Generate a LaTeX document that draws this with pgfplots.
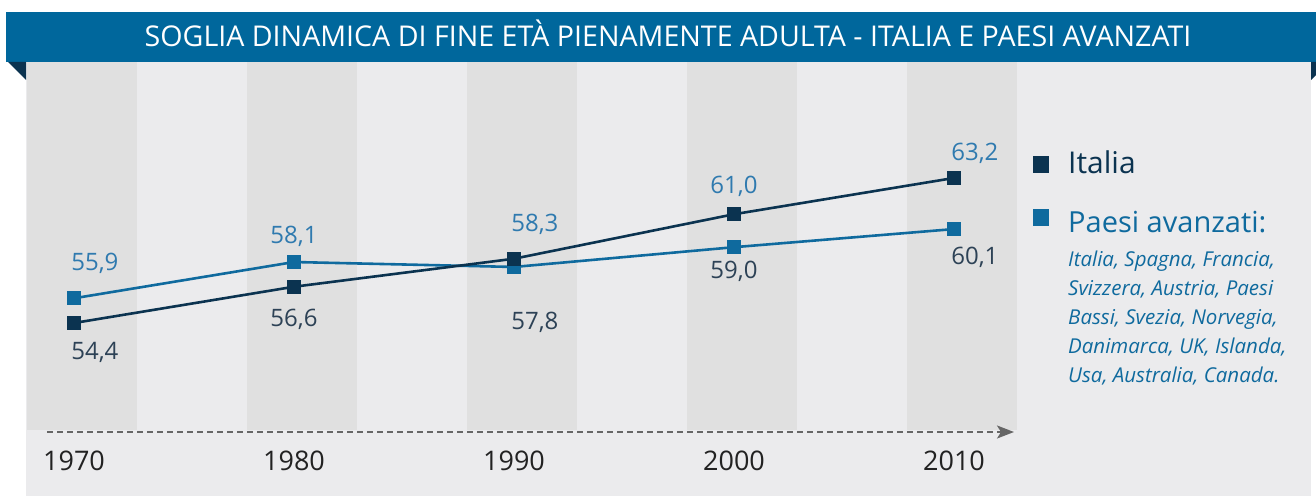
\documentclass[border=0pt]{standalone}
\usepackage{fontspec}
\setmainfont{Open Sans}
\usepackage{pgfplots}
\pgfplotsset{compat=1.18}
\usetikzlibrary{arrows.meta}
\definecolor{banner}{HTML}{00679C}
\definecolor{cdark}{HTML}{0B3350}
\definecolor{cblue}{HTML}{0F6A9E}
\definecolor{panel}{HTML}{EBEBED}
\definecolor{band}{HTML}{E0E0E0}
\definecolor{lblblue}{HTML}{2F7AAF}
\definecolor{lbldark}{HTML}{2D4256}
\definecolor{tickc}{HTML}{222222}
\definecolor{arrowc}{HTML}{666666}
\begin{document}
\begin{tikzpicture}[x=1pt,y=1pt]
\useasboundingbox (0,0) rectangle (1316,496);
\fill[white] (0,0) rectangle (1316,496);
\fill[panel] (26,0) rectangle (1311,434);
\foreach \i in {0,...,4} {\fill[band] ({27+220*\i},66) rectangle ({137+220*\i},434);}
\fill[banner] (6,434) rectangle (1316,484);
\fill[cdark] (8,434) -- (26,434) -- (26,416) -- cycle;
\begin{scope}
\clip (1311,400) rectangle (1316,434);
\fill[cdark] (1311,434) -- (1329,434) -- (1311,416) -- cycle;
\end{scope}
\node[white, font=\fontsize{28.6}{32}\selectfont, anchor=base] at (668,449) {SOGLIA DINAMICA DI FINE ETÀ PIENAMENTE ADULTA - ITALIA E PAESI AVANZATI};
\draw[arrowc, line width=1.8pt, dash pattern=on 6pt off 4pt, -{Stealth[length=17pt,width=13pt,inset=4pt]}] (47,64) -- (1014,64);

\begin{axis}[
  at={(26pt,0pt)}, anchor=south west, scale only axis,
  width=1285pt, height=434pt,
  xmin=1967.8182, xmax=2026.227, ymin=43.902, ymax=70.2374,
  axis line style={draw=none}, major tick length=0pt,
  ytick=\empty,
  xtick={1970,1980,1990,2000,2010},
  xticklabels={1970,1980,1990,2000,2010},
  xticklabel style={anchor=center, yshift=35pt, text=tickc, font=\fontsize{27}{30}\selectfont},
  clip=false,
  every node near coord/.append style={anchor=center, font=\fontsize{24}{28}\selectfont,
     /pgf/number format/fixed, /pgf/number format/fixed zerofill, /pgf/number format/precision=1,
     /pgf/number format/use comma, /pgf/number format/assume math mode=true},
]
\addplot[cblue, line width=2.6pt, mark=square*, mark size=5.5pt, mark options={solid}] coordinates {
(1970,55.9) (1980,58.1) (1990,57.8) (2000,59.0) (2010,60.1)};
\addplot[cdark, line width=2.6pt, mark=square*, mark size=5.5pt, mark options={solid}] coordinates {
(1970,54.4) (1980,56.6) (1990,58.3) (2000,61.0) (2010,63.2)};
% value labels (upper, blue)
\addplot[draw=none, mark=none, point meta=explicit, nodes near coords,
  every node near coord/.append style={text=lblblue}] coordinates {
(1970.95,58.04) [55.9] (1980,59.68) [58.1] (1990.95,60.41) [58.3] (2000,62.71) [61.0] (2010.95,64.72) [63.2]};
% value labels (lower, dark)
\addplot[draw=none, mark=none, point meta=explicit, nodes near coords,
  every node near coord/.append style={text=lbldark}] coordinates {
(1970.95,52.64) [54.4] (1980,54.64) [56.6] (1990.95,54.46) [57.8] (2000,57.56) [59.0] (2010.95,58.40) [60.1]};
\end{axis}

% legend
\fill[cdark] (1033,323) rectangle (1049,340);
\fill[cblue] (1033,270) rectangle (1049,287);
\node[anchor=base west, inner sep=0pt, text=cdark, font=\fontsize{30}{34}\selectfont] at (1068,322) {Italia};
\node[anchor=base west, inner sep=0pt, text=cblue, font=\fontsize{29}{33}\selectfont] at (1068,264) {Paesi avanzati:};
\foreach \t/\yy in {{Italia, Spagna, Francia,}/230, {Svizzera, Austria, Paesi}/201, {Bassi, Svezia, Norvegia,}/172, {Danimarca, UK, Islanda,}/143, {Usa, Australia, Canada.}/114}
  {\node[anchor=base west, inner sep=0pt, text=cblue, font=\fontsize{20.5}{24}\selectfont\itshape] at (1068,\yy) {\t};}
\end{tikzpicture}
\end{document}
